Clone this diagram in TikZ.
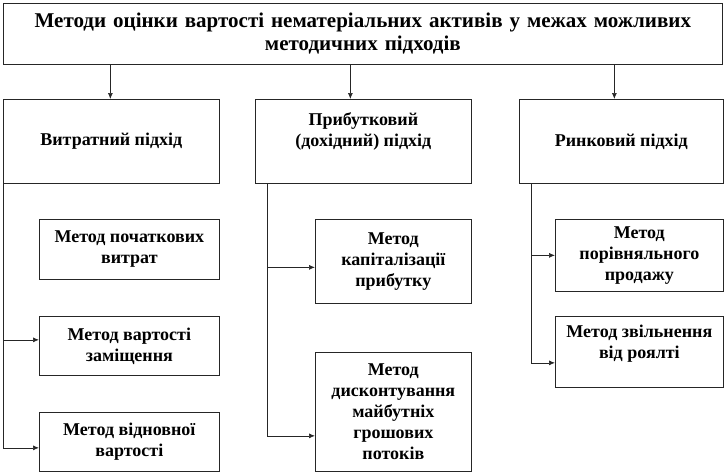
\documentclass[tikz,border=0pt]{standalone}
\usepackage{fontspec}
\setmainfont{Liberation Serif}
\usetikzlibrary{arrows.meta}

\begin{document}
\begin{tikzpicture}[
    x=1pt, y=-1pt,
    % рамки блоків
    boxStyle/.style={
        draw=black!85, line width=0.7pt,
        anchor=north west, align=center, inner sep=2pt,
        font=\bfseries\fontsize{18}{21}\selectfont
    },
    % з'єднання зі стрілкою
    linkStyle/.style={
        line width=0.7pt, draw=black!85,
        -{Latex[length=6pt,width=5pt]}
    }
]
    \useasboundingbox (0,0) rectangle (726,474);

    % Заголовок
    \node[boxStyle, minimum width=719pt, minimum height=61pt, text width=710pt,
          font=\bfseries\fontsize{21}{23}\selectfont] (title) at (3,3)
        {Методи оцінки вартості нематеріальних активів у межах можливих\\методичних підходів};

    % Підходи
    \node[boxStyle, minimum width=216pt, minimum height=84pt] (cost) at (3,99) {Витратний підхід};
    \node[boxStyle, minimum width=216pt, minimum height=84pt] (income) at (255,99) {Прибутковий\\(дохідний) підхід\\[2pt]};
    \node[boxStyle, minimum width=204pt, minimum height=84pt] (market) at (519,99) {Ринковий підхід};

    % Методи
    \node[boxStyle, minimum width=180pt, minimum height=60pt] (costA) at (39,219) {Метод початкових\\витрат};
    \node[boxStyle, minimum width=180pt, minimum height=59pt] (costB) at (39,316) {Метод вартості\\заміщення};
    \node[boxStyle, minimum width=180pt, minimum height=59pt] (costC) at (39,412) {Метод відновної\\вартості};
    \node[boxStyle, minimum width=156pt, minimum height=84pt] (incomeA) at (315,219) {Метод\\капіталізації\\прибутку};
    \node[boxStyle, minimum width=156pt, minimum height=119pt] (incomeB) at (315,352) {Метод\\дисконтування\\майбутніх\\грошових\\потоків};
    \node[boxStyle, minimum width=168pt, minimum height=72pt] (marketA) at (555,219) {Метод\\порівняльного\\продажу};
    \node[boxStyle, minimum width=168pt, minimum height=71pt] (marketB) at (555,316) {Метод звільнення\\від роялті\\\mbox{}};

    % Стрілки від заголовка
    \coordinate (costTop) at ([xshift=-1pt]cost.north);
    \coordinate (incomeTop) at ([xshift=-13pt]income.north);
    \coordinate (marketTop) at ([xshift=-7pt]market.north);
    \draw[linkStyle] (title.south -| costTop) -- (costTop);
    \draw[linkStyle] (title.south -| incomeTop) -- (incomeTop);
    \draw[linkStyle] (title.south -| marketTop) -- (marketTop);

    % Лінії до методів
    \coordinate (costTrunk) at (cost.south west);
    \coordinate (incomeTrunk) at ([xshift=12pt]income.south west);
    \coordinate (marketTrunk) at ([xshift=12pt]market.south west);
    \draw[linkStyle] (costTrunk) |- ([yshift=6pt]costB.west);
    \draw[linkStyle] (costTrunk) |- ([yshift=-6pt]costC.west);
    \draw[linkStyle] (incomeTrunk) |- ([yshift=-6pt]incomeA.west);
    \draw[linkStyle] (incomeTrunk) |- ([yshift=-24pt]incomeB.west);
    \draw[linkStyle] (marketTrunk) |- (marketA.west);
    \draw[linkStyle] (marketTrunk) |- ([yshift=-11pt]marketB.west);
\end{tikzpicture}
\end{document}
